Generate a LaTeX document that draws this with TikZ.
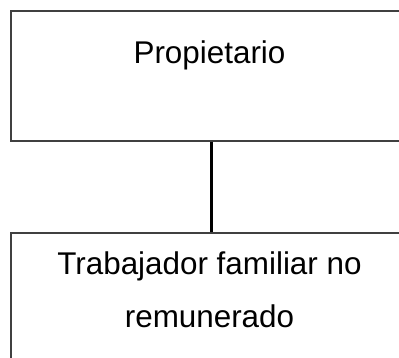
\documentclass[tikz,border=0pt]{standalone}
\usepackage{fontspec}
\setmainfont{Liberation Sans}
\begin{document}
\begin{tikzpicture}[x=1pt,y=1pt,
  box/.style={draw=black!75, line width=1.4pt, rectangle, minimum width=401pt, inner sep=0pt},
  lbl/.style={font=\fontsize{31.4}{41}\selectfont, inner sep=0pt, anchor=base},
  conn/.style={draw=black, line width=3pt}]
\useasboundingbox (0,0) rectangle (399,-358);
\clip (0,0) rectangle (399,-358);
\fill[white] (0,0) rectangle (399,-358);
\node[box, minimum height=130pt] (prop) at (211.5,-76) {};
\node[box, minimum height=200pt] (trab) at (211.5,-333) {};
\node[lbl] (propt) at (209.5,-64) {Propietario};
\node[lbl] (trabt1) at (209.5,-274) {Trabajador familiar no};
\node[lbl] (trabt2) at (209.5,-327) {remunerado};
\draw[conn] (prop.south) -- (trab.north);
\end{tikzpicture}
\end{document}
